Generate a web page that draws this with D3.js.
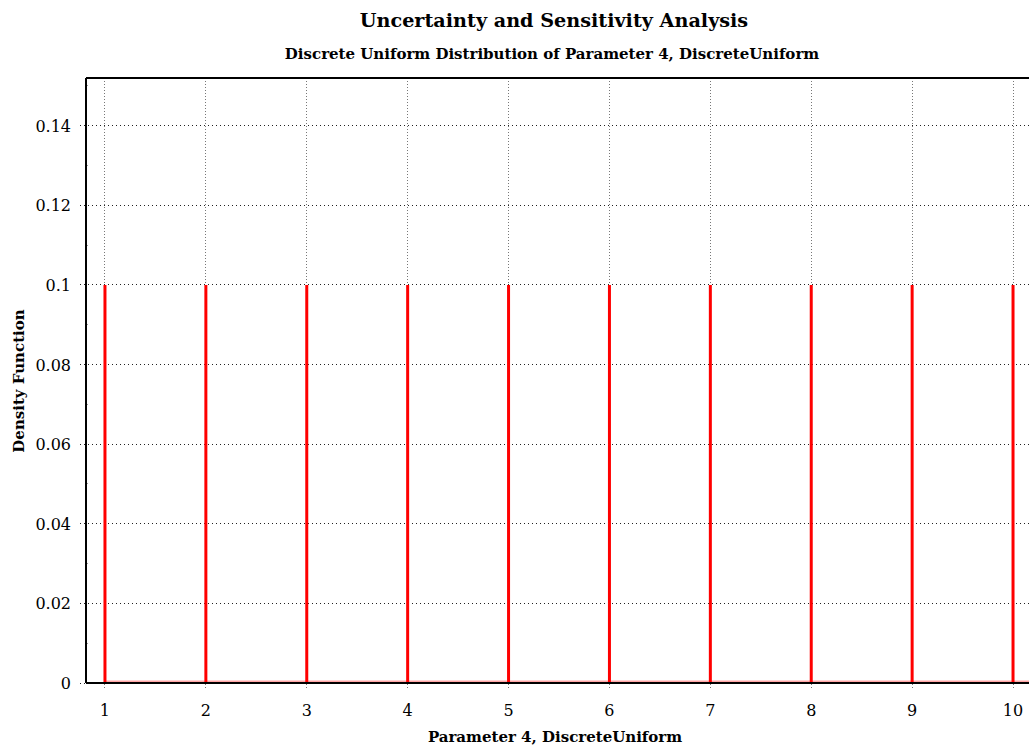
<!DOCTYPE html>
<html><head><meta charset="utf-8">
<script src="https://cdn.jsdelivr.net/npm/d3@7"></script>
<style>
body{margin:0;background:#fff;}
svg{display:block;}
text{font-family:"DejaVu Serif",serif;fill:#000;}
</style></head>
<body>
<svg id="c" width="1029" height="747"></svg>
<script>
const xValues = [1, 2, 3, 4, 5, 6, 7, 8, 9, 10];
const densityValues = [0.1, 0.1, 0.1, 0.1, 0.1, 0.1, 0.1, 0.1, 0.1, 0.1];
const xTicks = [1, 2, 3, 4, 5, 6, 7, 8, 9, 10];
const yTicks = [0, 0.02, 0.04, 0.06, 0.08, 0.1, 0.12, 0.14];
const yMinorTicks = [0.01, 0.03, 0.05, 0.07, 0.09, 0.11, 0.13, 0.15];
const titleText = "Uncertainty and Sensitivity Analysis";
const subtitleText = "Discrete Uniform Distribution of Parameter 4, DiscreteUniform";
const xLabel = "Parameter 4, DiscreteUniform";
const yLabel = "Density Function";

const svg = d3.select("#c");
const L = 86, T = 78, R = 1032, B = 683;
const x = d3.scaleLinear().domain([0.812, 10.188]).range([L, R]);
const y = d3.scaleLinear().domain([0, 0.152]).range([B, T]);

// gridlines
svg.append("g").selectAll("line").data(xTicks).join("line")
  .attr("x1", d => x(d)).attr("x2", d => x(d)).attr("y1", T).attr("y2", B + 6)
  .attr("stroke", "#777").attr("stroke-width", 1).attr("stroke-dasharray", "1,2")
  .attr("shape-rendering", "crispEdges");
svg.append("g").selectAll("line").data(yTicks).join("line")
  .attr("x1", L - 6).attr("x2", R).attr("y1", d => y(d)).attr("y2", d => y(d))
  .attr("stroke", "#222").attr("stroke-width", 1).attr("stroke-dasharray", "1,3")
  .attr("shape-rendering", "crispEdges");
svg.append("g").selectAll("line").data(yMinorTicks).join("line")
  .attr("x1", L).attr("x2", L + 2).attr("y1", d => y(d)).attr("y2", d => y(d))
  .attr("stroke", "#999").attr("shape-rendering", "crispEdges");

// axes labels
svg.append("g").selectAll("text").data(yTicks).join("text")
  .attr("x", 71).attr("y", d => y(d) + 6).attr("text-anchor", "end")
  .attr("font-size", 16).text(d => d3.format("~g")(d));
svg.append("g").selectAll("text").data(xTicks).join("text")
  .attr("x", d => x(d)).attr("y", 716).attr("text-anchor", "middle")
  .attr("font-size", 16).text(d => d);

// stems
svg.append("line").attr("x1", x(xValues[0])).attr("x2", R).attr("y1", B - 1).attr("y2", B - 1)
  .attr("stroke", "#ff0000").attr("stroke-width", 3).attr("opacity", 0.35);
svg.append("g").selectAll("line").data(xValues).join("line")
  .attr("x1", d => x(d)).attr("x2", d => x(d))
  .attr("y1", B).attr("y2", (d, i) => y(densityValues[i]))
  .attr("stroke", "#ff0000").attr("stroke-width", 3);

// frame
svg.append("line").attr("x1", L).attr("x2", R).attr("y1", T).attr("y2", T).attr("stroke", "#000").attr("stroke-width", 2);
svg.append("line").attr("x1", L).attr("x2", L).attr("y1", T).attr("y2", B).attr("stroke", "#000").attr("stroke-width", 2);
svg.append("line").attr("x1", L).attr("x2", R).attr("y1", B).attr("y2", B).attr("stroke", "#000").attr("stroke-width", 2);

// titles
svg.append("text").attr("x", 554).attr("y", 27).attr("text-anchor", "middle")
  .attr("font-size", 19.2).attr("font-weight", "bold").text(titleText);
svg.append("text").attr("x", 552).attr("y", 59).attr("text-anchor", "middle")
  .attr("font-size", 15).attr("font-weight", "bold").text(subtitleText);
svg.append("text").attr("x", 555).attr("y", 742).attr("text-anchor", "middle")
  .attr("font-size", 15).attr("font-weight", "bold").text(xLabel);
svg.append("text").attr("transform", "translate(24,381) rotate(-90)").attr("text-anchor", "middle")
  .attr("font-size", 15).attr("font-weight", "bold").text(yLabel);
</script>
</body></html>
